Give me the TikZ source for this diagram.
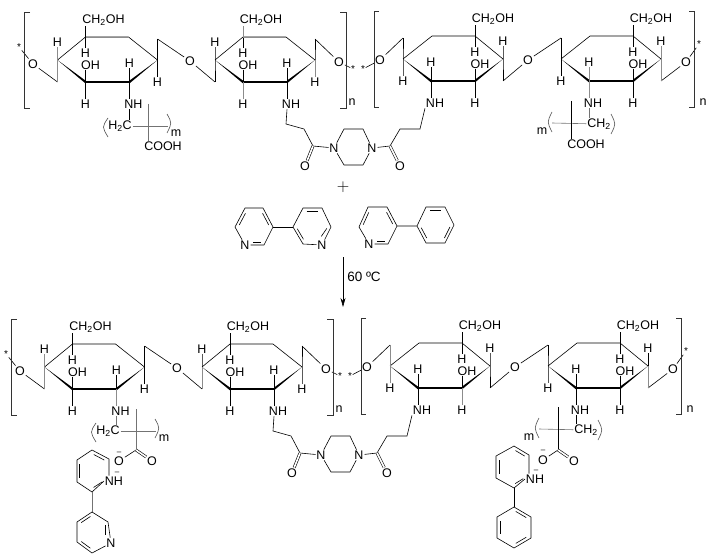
\documentclass[tikz,border=0pt]{standalone}
\usepackage{fontspec}
\setmainfont{Liberation Sans}
\usetikzlibrary{calc}
\usetikzlibrary{arrows.meta}
\tikzset{
  atom/.style={inner sep=0.7pt,font=\fontsize{12.5}{13}\selectfont},
  starmark/.style={inner sep=0.5pt,font=\fontsize{10}{10}\selectfont},
  dashmark/.style={inner sep=0pt,font=\fontsize{8}{8}\selectfont},
  softbond/.style={color=black!55},
  paleover/.style={color=black!45,line width=0.8pt},
  thickbond/.style={line width=2.6pt},
  dblbond/.style={double,double distance=1.6pt,line width=0.6pt},
}
% one sugar ring, mirrored when the last argument is -1
\newcommand{\sugarring}[4]{%
  \begin{scope}[shift={(#2,#3)},x=#4pt]
    \coordinate (#1l) at (-50,0);
    \coordinate (#1ul) at (-22,-23);
    \coordinate (#1ur) at (21,-23);
    \coordinate (#1r) at (50,0);
    \coordinate (#1lr) at (22,22);
    \coordinate (#1ll) at (-22,22);
    \coordinate (#1lo) at (-50,22);
    \coordinate (#1hi) at (50,-21);
    \node[atom,xshift=18pt] (#1ch) at (-22,-40) {CH\textsubscript{2}OH};
    \node[atom] (#1hl) at (-50,-18) {H};
    \node[atom] (#1hu) at (-22,-7) {H};
    \node[atom,xshift=5pt] (#1oh) at (-22,5) {OH};
    \node[atom] (#1hb) at (-22,44) {H};
    \node[atom] (#1hm) at (22,3) {H};
    \node[atom,xshift=4pt] (#1nh) at (22,44) {NH};
    \node[atom] (#1hr) at (50,22) {H};
    \draw (#1l) -- (#1ul) -- (#1ur) -- (#1r);
    \fill (#1l) -- ([yshift=1.4pt]#1ll) -- ([yshift=-1.4pt]#1ll) -- cycle;
    \fill (#1r) -- ([yshift=1.4pt]#1lr) -- ([yshift=-1.4pt]#1lr) -- cycle;
    \draw[thickbond] (#1ll) -- (#1lr);
    \draw (#1hl) -- (#1l) -- (#1lo);
    \draw (#1hr) -- (#1r) -- (#1hi);
    \draw (#1ul) -- (#1ul |- #1ch.south);
    \draw (#1ul) -- (#1hu);
    \draw (#1ll) -- (#1ll |- #1oh.south);
    \draw (#1ll) -- (#1hb);
    \draw (#1lr) -- (#1hm);
    \draw (#1lr) -- (#1lr |- #1nh.north);
  \end{scope}}
% the whole polymer backbone with the piperazine link
\newcommand{\sugarchain}[3]{%
  \begin{scope}[shift={(#2,#3)}]
    \sugarring{#1a}{107.5}{60}{1}
    \sugarring{#1b}{265}{60}{1}
    \sugarring{#1c}{453}{59}{-1}
    \sugarring{#1d}{611}{59}{-1}
    \node[starmark] (#1s1) at (19,47) {*};
    \node[starmark] (#1s2) at (353,69) {*};
    \node[starmark] (#1s3) at (363,69) {*};
    \node[starmark] (#1s4) at (699,44) {*};
    \node[atom] (#1o1) at (33,64) {O};
    \node[atom] (#1o2) at (190,61) {O};
    \node[atom] (#1o3) at (339,62) {O};
    \node[atom] (#1o4) at (380,60) {O};
    \node[atom] (#1o5) at (528,60) {O};
    \node[atom] (#1o6) at (686,62) {O};
    \draw (#1s1) -- (#1o1) -- (#1alo);
    \draw (#1ahi) -- (#1o2) -- (#1blo);
    \draw (#1bhi) -- (#1o3) -- (#1s2);
    \draw (#1s3) -- (#1o4) -- (#1chi);
    \draw (#1clo) -- (#1o5) -- (#1dhi);
    \draw (#1dlo) -- (#1o6) -- (#1s4);
    % brackets
    \draw[black!80] (30,12) -- (24,12) -- (24,108) -- (30,108);
    \draw[black!80] (340,12) -- (346,12) -- (346,108) -- (340,108);
    \node[atom] (#1n1) at (352,102) {n};
    \draw[black!80] (379,11) -- (374,11) -- (374,107) -- (379,107);
    \draw[black!80] (689,11) -- (694,11) -- (694,107) -- (689,107);
    \node[atom] (#1n2) at (703,102) {n};
    % piperazine
    \node[atom] (#1nl) at (334,148) {N};
    \node[atom] (#1nr) at (372,148) {N};
    \coordinate (#1p1) at (344,129);
    \coordinate (#1p2) at (363,129);
    \coordinate (#1p3) at (363,165);
    \coordinate (#1p4) at (344,165);
    \draw (#1nl) -- (#1p1) -- (#1p2) -- (#1nr) -- (#1p3) -- (#1p4) -- (#1nl);
    \coordinate (#1k1) at (286,124);
    \coordinate (#1k2) at (304,129);
    \coordinate (#1k3) at (313,146);
    \node[atom] (#1ok1) at (305,166) {O};
    \draw (#1blr |- #1bnh.south) -- (#1k1) -- (#1k2) -- (#1k3) -- (#1nl);
    \draw[dblbond] (#1k3) -- (#1ok1);
    \coordinate (#1q1) at (420,129);
    \coordinate (#1q2) at (400,129);
    \coordinate (#1q3) at (390,146);
    \node[atom] (#1ok2) at (400,166) {O};
    \draw (#1cnh.south west) -- (#1q1) -- (#1q2) -- (#1q3) -- (#1nr);
    \draw[dblbond] (#1q3) -- (#1ok2);
  \end{scope}}
% side arm with the bracket, H2C on the left of the crossing
\newcommand{\armleft}[3]{%
  \begin{scope}[shift={(#2,#3)}]
    \coordinate (#1t) at (0,-22);
    \coordinate (#1e) at (20,0);
    \node[atom] (#1ch) at (-28,0) {H\textsubscript{2}C};
    \node[atom] (#1m) at (28,7) {m};
    \draw[softbond] (#1ch) -- (#1e);
    \draw[black!70] (-40,-8) .. controls (-46,1) .. (-40,11);
    \draw[black!70] (19,-12) .. controls (24,-3) .. (19,7);
  \end{scope}}
% the same arm with CH2 on the right
\newcommand{\armright}[3]{%
  \begin{scope}[shift={(#2,#3)}]
    \coordinate (#1t) at (0,-22);
    \coordinate (#1e) at (-19,0);
    \node[atom] (#1ch) at (28,1) {CH\textsubscript{2}};
    \node[atom] (#1m) at (-29,8) {m};
    \draw[softbond] (#1e) -- (#1ch);
    \draw[black!70] (-19,-11) .. controls (-24,-1) .. (-19,9);
    \draw[black!70] (40,-9) .. controls (45,1) .. (40,11);
  \end{scope}}
\newcommand{\innerbond}[3]{\draw ($(#1)!.13!(#2)!.17!(#3)$) -- ($(#2)!.13!(#1)!.17!(#3)$);}
\begin{document}
\begin{tikzpicture}[x=1pt,y=-1pt,line width=0.6pt]
  \useasboundingbox (0,0) rectangle (711,559);
  %top chain
  \sugarchain{t}{0}{0}
  \armleft{tu}{148}{126}
  \node[atom] (tcooh) at (163,146) {COOH};
  \draw[softbond] (tut) -- (tut |- tcooh.north);
  \draw (talr |- tanh.south) -- (talr |- tuch.north);
  \armright{tv}{571}{123}
  \node[atom] (vcooh) at (586,144) {COOH};
  \draw (tvt) -- (tvt |- vcooh.north);
  \draw[softbond] (tdlr |- tdnh.south) -- (tdlr |- tvch.north);
  %reagents
  \node[inner sep=0pt,font=\fontsize{17}{17}\selectfont] (plus) at (343,187) {$+$};
  \node[atom] (na) at (245,245) {N};
  \draw (na) -- (235,227) -- (245,208) -- (263,208) -- (273,227) -- (264,245) -- (na);
  \innerbond{251,245}{264,245}{254,227}
  \innerbond{235,227}{245,208}{254,227}
  \innerbond{263,208}{273,227}{254,227}
  \node[atom] (nb) at (322,245) {N};
  \draw (nb) -- (331,227) -- (322,208) -- (303,208) -- (293,227) -- (303,244) -- (nb);
  \innerbond{303,208}{322,208}{312,227}
  \innerbond{293,227}{303,244}{312,227}
  \innerbond{322,240}{331,227}{312,227}
  \draw (273,227) -- (293,227);
  \node[atom] (nc) at (369,244) {N};
  \draw (nc) -- (359,227) -- (368,207) -- (387,207) -- (397,226) -- (388,244) -- (nc);
  \innerbond{375,244}{388,244}{378,226}
  \innerbond{359,227}{368,207}{378,226}
  \innerbond{387,207}{397,226}{378,226}
  \draw (397,226) -- (417,226) -- (426,207) -- (445,207) -- (454,225) -- (445,243) -- (426,243) -- (417,226);
  \innerbond{426,207}{445,207}{436,225}
  \innerbond{454,225}{445,243}{436,225}
  \innerbond{417,226}{426,243}{436,225}
  %arrow
  \coordinate (ara) at (343,257);
  \coordinate (arb) at (343,307);
  \draw[-{Stealth[length=9pt,width=5pt]}] (ara) -- (arb);
  \node[atom,font=\fontsize{13.5}{14}\selectfont] (temp) at (364,277) {60 ºC};
  %bottom chain
  \sugarchain{b}{-13}{307}
  \armleft{bu}{136}{431}
  \coordinate (buc) at (136,450);
  \draw[softbond] (but) -- (buc);
  \draw[softbond] (balr |- banh.south) -- (balr |- buch.north);
  \node[atom] (buo) at (119,461) {O};
  \node[atom] (buq) at (152,461) {O};
  \node[dashmark] (bum) at (119,453) {–};
  \node[dashmark] (bup) at (117,473) {–};
  \draw (buc) -- (buo);
  \draw[dblbond] (buc) -- (buq);
  \node[atom] (bunh) at (114,481) {NH};
  \coordinate (pa1) at (92,450);
  \coordinate (pa2) at (109,459);
  \coordinate (pa3) at (92,492);
  \coordinate (pa4) at (77,482);
  \coordinate (pa5) at (77,460);
  \draw (pa2 |- bunh.north) -- (pa2) -- (pa1) -- (pa5) -- (pa4) -- (pa3) -- (bunh.west);
  \innerbond{92,450}{109,459}{92,471}
  \innerbond{77,460}{77,482}{92,471}
  \innerbond{92,492}{106,483}{92,471}
  \coordinate (pb1) at (92,512);
  \coordinate (pb2) at (108,522);
  \coordinate (pb4) at (92,553);
  \coordinate (pb5) at (77,542);
  \coordinate (pb6) at (77,522);
  \node[atom] (bun) at (111,543) {N};
  \draw[softbond] (pa3) -- (pb1);
  \draw (bun) -- (pb2) -- (pb1) -- (pb6) -- (pb5) -- (pb4) -- (bun);
  \innerbond{92,512}{77,522}{92,532}
  \innerbond{77,542}{92,553}{92,532}
  \innerbond{108,522}{108,537}{92,532}
  \armright{bv}{558}{429}
  \coordinate (bvc) at (558,450);
  \draw (bvt) -- (bvc);
  \draw (bdlr |- bdnh.south) -- (bdlr |- bvch.north);
  \node[atom] (bvo) at (543,460) {O};
  \node[atom] (bvq) at (574,461) {O};
  \node[dashmark] (bvm) at (543,451) {–};
  \node[dashmark] (bvp) at (536,471) {–};
  \draw (bvc) -- (bvo);
  \draw[dblbond] (bvc) -- (bvq);
  \node[atom] (bvnh) at (535,479) {NH};
  \coordinate (qa1) at (514,446);
  \coordinate (qa2) at (529,455);
  \coordinate (qa3) at (514,488);
  \coordinate (qa4) at (496,478);
  \coordinate (qa5) at (496,456);
  \draw (qa2 |- bvnh.north) -- (qa2) -- (qa1) -- (qa5) -- (qa4) -- (qa3) -- (bvnh.west);
  \innerbond{514,446}{529,455}{513,467}
  \innerbond{496,456}{496,478}{513,467}
  \innerbond{514,488}{527,480}{513,467}
  \coordinate (qb1) at (514,507);
  \coordinate (qb2) at (531,517);
  \coordinate (qb3) at (531,538);
  \coordinate (qb4) at (514,548);
  \coordinate (qb5) at (497,538);
  \coordinate (qb6) at (497,517);
  \draw (qa3) -- (qb1);
  \draw (qb1) -- (qb2) -- (qb3) -- (qb4) -- (qb5) -- (qb6) -- (qb1);
  \innerbond{514,507}{531,517}{514,527}
  \innerbond{531,538}{514,548}{514,527}
  \innerbond{497,538}{497,517}{514,527}
  %paler bonds
  \foreach \p/\q in {tal/talo,tal/tahl,taul/taur,tbul/tbur,tbll/tbhb,tbr/tbhr,
      tdl/tdlo,tdl/tdhl,tdlr/tdhm,bal/balo,bal/bahl,bbl/bblo,bcr/bchi,bcr/bchr,
      bcll/bchb,bdl/bdlo}
    \draw[paleover] (\p) -- (\q);
  \draw[paleover] (tbul) -- (tbul |- tbch.south);
  \draw[paleover] (tdlr) -- (tdlr |- tdnh.north);
  \draw[paleover] (balr) -- (balr |- banh.north);
\end{tikzpicture}
\end{document}
